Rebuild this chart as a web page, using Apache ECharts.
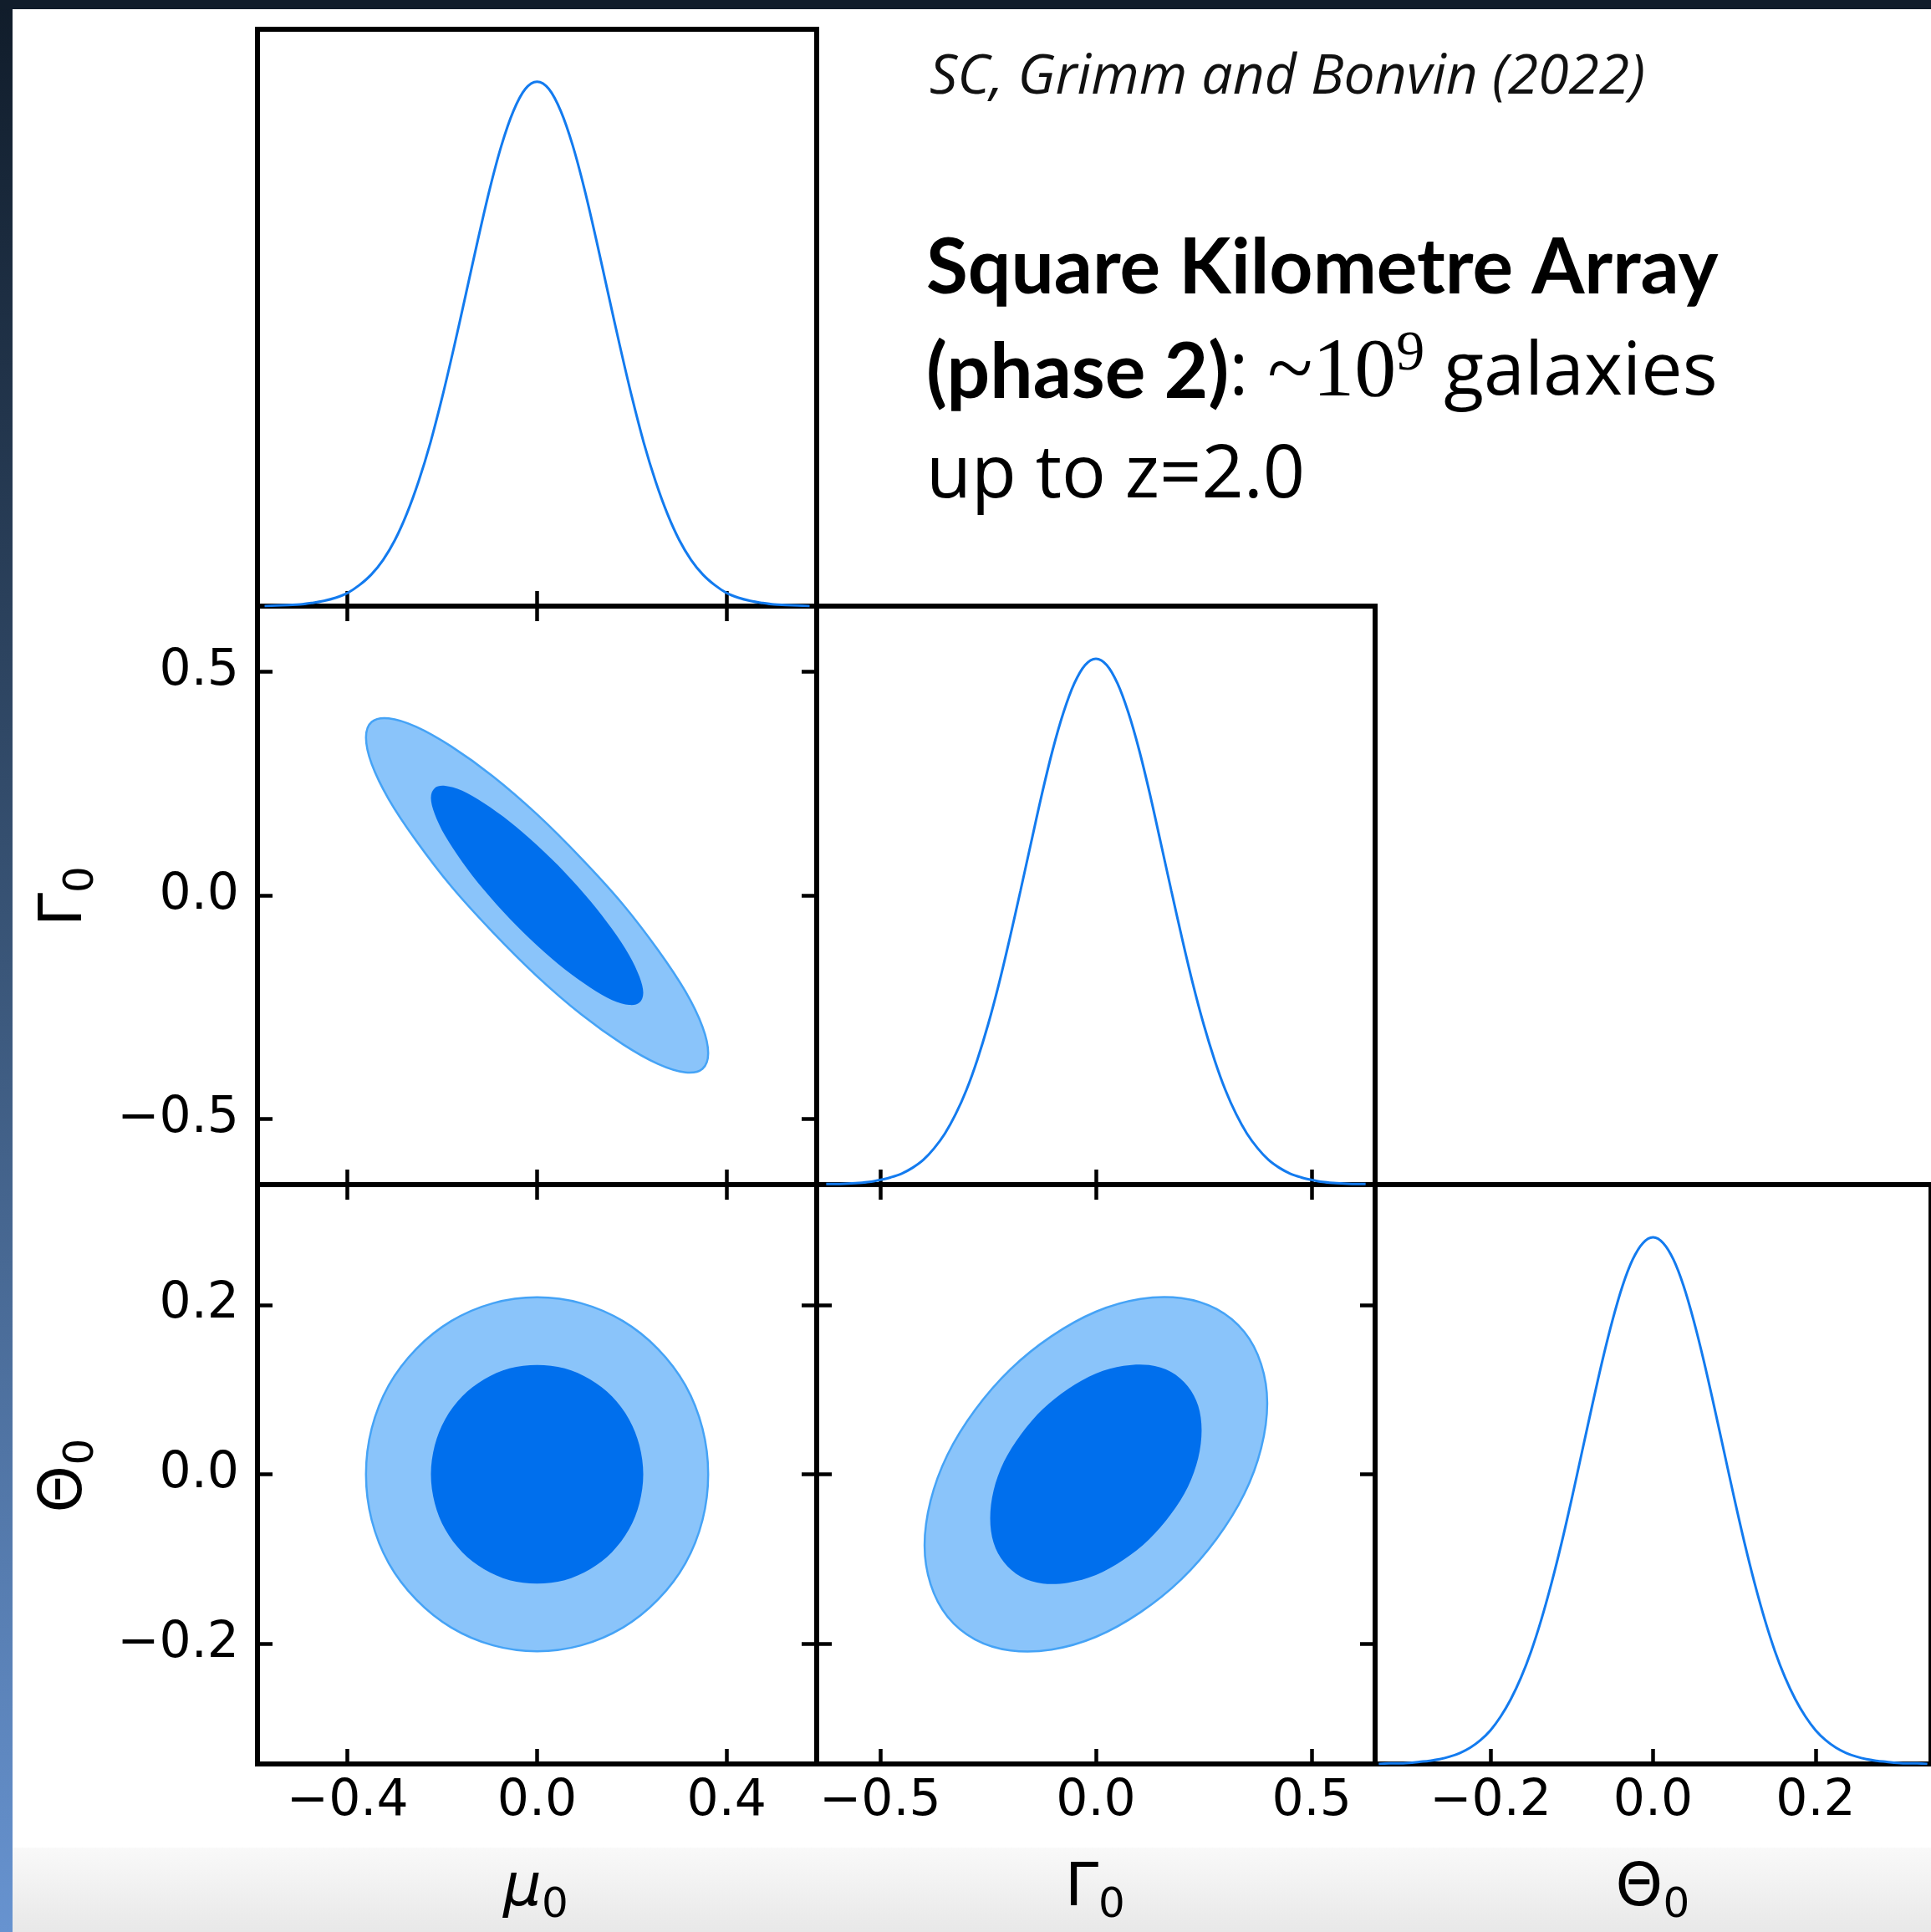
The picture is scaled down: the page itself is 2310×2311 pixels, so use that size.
<!DOCTYPE html>
<html>
<head>
<meta charset="utf-8">
<title>SKA phase 2 - mu0 / Gamma0 / Theta0</title>
<script src="https://cdn.jsdelivr.net/npm/echarts@6/dist/echarts.min.js"></script>
<style>
	html, body { margin: 0; padding: 0; background: #fff; }
	#main { width: 2310px; height: 2311px; }
</style>
</head>
<body>
<div id="main"></div>
<script type="text/javascript">

	// plot ranges and tick labels
	var muRange  = [-0.59, 0.59];
	var gamRange = [-0.647, 0.647];
	var theRange = [-0.342, 0.342];
	var muTicks  = [-0.4, 0.0, 0.4];
	var gamTicks = [-0.5, 0.0, 0.5];
	var theTicks = [-0.2, 0.0, 0.2];

	// 1D marginals (peak = 1)
	var muGrid = [-0.575,-0.55,-0.525,-0.5,-0.475,-0.45,-0.425,-0.4,-0.375,-0.35,-0.325,-0.3,-0.275,-0.25,-0.225,-0.2,-0.175,-0.15,-0.125,-0.1,-0.075,-0.05,-0.025,0,
		0.025,0.05,0.075,0.1,0.125,0.15,0.175,0.2,0.225,0.25,0.275,0.3,0.325,0.35,0.375,0.4,0.425,0.45,0.475,0.5,0.525,0.55,0.575];
	var muPdf = [0.000,0.001,0.002,0.003,0.006,0.010,0.016,0.025,0.040,0.060,0.088,0.126,0.176,0.238,0.312,0.399,0.495,0.596,0.698,0.795,0.879,0.944,0.986,1.000,
		0.986,0.944,0.879,0.795,0.698,0.596,0.495,0.399,0.312,0.238,0.176,0.126,0.088,0.060,0.040,0.025,0.016,0.010,0.006,0.003,0.002,0.001,0.000];

	var gamGrid = [-0.625,-0.6,-0.575,-0.55,-0.525,-0.5,-0.475,-0.45,-0.425,-0.4,-0.375,-0.35,-0.325,-0.3,-0.275,-0.25,-0.225,-0.2,-0.175,-0.15,-0.125,-0.1,-0.075,-0.05,-0.025,0,
		0.025,0.05,0.075,0.1,0.125,0.15,0.175,0.2,0.225,0.25,0.275,0.3,0.325,0.35,0.375,0.4,0.425,0.45,0.475,0.5,0.525,0.55,0.575,0.6,0.625];
	var gamPdf = [0.001,0.001,0.002,0.003,0.005,0.009,0.014,0.021,0.032,0.047,0.069,0.097,0.134,0.180,0.237,0.304,0.381,0.467,0.558,0.651,0.743,0.827,0.898,0.953,0.988,1.000,
		0.988,0.953,0.898,0.827,0.743,0.651,0.558,0.467,0.381,0.304,0.237,0.180,0.134,0.097,0.069,0.047,0.032,0.021,0.014,0.009,0.005,0.003,0.002,0.001,0.001];

	var theGrid = [-0.3375,-0.325,-0.3125,-0.3,-0.2875,-0.275,-0.2625,-0.25,-0.2375,-0.225,-0.2125,-0.2,-0.1875,-0.175,-0.1625,-0.15,-0.1375,-0.125,-0.1125,-0.1,-0.0875,-0.075,-0.0625,-0.05,-0.0375,-0.025,-0.0125,0,
		0.0125,0.025,0.0375,0.05,0.0625,0.075,0.0875,0.1,0.1125,0.125,0.1375,0.15,0.1625,0.175,0.1875,0.2,0.2125,0.225,0.2375,0.25,0.2625,0.275,0.2875,0.3,0.3125,0.325,0.3375];
	var thePdf = [0.000,0.001,0.001,0.002,0.004,0.006,0.009,0.014,0.021,0.031,0.045,0.064,0.090,0.123,0.164,0.214,0.274,0.343,0.420,0.504,0.592,0.680,0.765,0.842,0.908,0.958,0.989,1.000,
		0.989,0.958,0.908,0.842,0.765,0.680,0.592,0.504,0.420,0.343,0.274,0.214,0.164,0.123,0.090,0.064,0.045,0.031,0.021,0.014,0.009,0.006,0.004,0.002,0.001,0.001,0.000];

	// 2D contours (68% inner, 95% outer), points traced round each contour
	var muGamOuter = [[0.361,-0.353],[0.349,-0.294],[0.313,-0.215],[0.255,-0.122],[0.181,-0.020],[0.093,0.083],[0,0.181],[-0.093,0.266],[-0.181,0.333],[-0.255,0.377],[-0.313,0.396],[-0.349,0.388],
		[-0.361,0.353],[-0.349,0.294],[-0.313,0.215],[-0.255,0.122],[-0.181,0.020],[-0.093,-0.083],[0,-0.181],[0.093,-0.266],[0.181,-0.333],[0.255,-0.377],[0.313,-0.396],[0.349,-0.388]];
	var muGamInner = [[0.224,-0.218],[0.216,-0.182],[0.194,-0.133],[0.158,-0.075],[0.112,-0.012],[0.058,0.052],[0,0.112],[-0.058,0.165],[-0.112,0.206],[-0.158,0.234],[-0.194,0.245],[-0.216,0.240],
		[-0.224,0.218],[-0.216,0.182],[-0.194,0.133],[-0.158,0.075],[-0.112,0.012],[-0.058,-0.052],[0,-0.112],[0.058,-0.165],[0.112,-0.206],[0.158,-0.234],[0.194,-0.245],[0.216,-0.240]];

	var muTheOuter = [[0.361,0],[0.349,0.054],[0.313,0.105],[0.255,0.148],[0.181,0.181],[0.093,0.202],[0,0.209],[-0.093,0.202],[-0.181,0.181],[-0.255,0.148],[-0.313,0.105],[-0.349,0.054],
		[-0.361,0],[-0.349,-0.054],[-0.313,-0.105],[-0.255,-0.148],[-0.181,-0.181],[-0.093,-0.202],[0,-0.209],[0.093,-0.202],[0.181,-0.181],[0.255,-0.148],[0.313,-0.105],[0.349,-0.054]];
	var muTheInner = [[0.224,0],[0.216,0.034],[0.194,0.065],[0.158,0.092],[0.112,0.112],[0.058,0.125],[0,0.129],[-0.058,0.125],[-0.112,0.112],[-0.158,0.092],[-0.194,0.065],[-0.216,0.034],
		[-0.224,0],[-0.216,-0.034],[-0.194,-0.065],[-0.158,-0.092],[-0.112,-0.112],[-0.058,-0.125],[0,-0.129],[0.058,-0.125],[0.112,-0.112],[0.158,-0.092],[0.194,-0.065],[0.216,-0.034]];

	var gamTheOuter = [[0.397,0.084],[0.383,0.130],[0.344,0.168],[0.280,0.195],[0.198,0.208],[0.103,0.207],[0,0.192],[-0.103,0.163],[-0.198,0.124],[-0.280,0.076],[-0.344,0.023],[-0.383,-0.031],
		[-0.397,-0.084],[-0.383,-0.130],[-0.344,-0.168],[-0.280,-0.195],[-0.198,-0.208],[-0.103,-0.207],[0,-0.192],[0.103,-0.163],[0.198,-0.124],[0.280,-0.076],[0.344,-0.023],[0.383,0.031]];
	var gamTheInner = [[0.245,0.052],[0.237,0.081],[0.213,0.104],[0.174,0.121],[0.123,0.129],[0.064,0.128],[0,0.119],[-0.064,0.101],[-0.123,0.077],[-0.174,0.047],[-0.213,0.015],[-0.237,-0.019],
		[-0.245,-0.052],[-0.237,-0.081],[-0.213,-0.104],[-0.174,-0.121],[-0.123,-0.129],[-0.064,-0.128],[0,-0.119],[0.064,-0.101],[0.123,-0.077],[0.174,-0.047],[0.213,-0.015],[0.237,0.019]];

	var LINE_COLOR = '#137BEF';
	var DARK_FILL = '#006FED';
	var LIGHT_FILL = '#8AC4FA';
	var LIGHT_EDGE = '#45A3F6';

	function tickText(v) {
		return (v < 0 ? '\u2212' : '') + Math.abs(v).toFixed(1);
	}

	function axis(gridIndex, range, ticks, position, showLabel) {
		return {
			type: 'value',
			gridIndex: gridIndex,
			position: position,
			min: range[0],
			max: range[1],
			axisLine: { show: false, onZero: false },
			splitLine: { show: false },
			axisTick: { show: true, inside: true, length: 18, customValues: ticks, lineStyle: { color: '#000', width: 4.5 } },
			axisLabel: {
				show: showLabel,
				customValues: ticks,
				formatter: tickText,
				color: '#000',
				fontFamily: 'DejaVu Sans',
				fontSize: 60,
				margin: (position === 'left') ? 22 : 15
			}
		};
	}

	function pdfAxis(gridIndex) {
		return { type: 'value', gridIndex: gridIndex, min: 0, max: 1.1, show: false };
	}

	function pairs(xs, ys) {
		return xs.map(function (x, i) { return [x, ys[i]]; });
	}

	function pdfSeries(xi, yi, xs, ys) {
		return {
			type: 'line', xAxisIndex: xi, yAxisIndex: yi,
			data: pairs(xs, ys),
			showSymbol: false, symbol: 'none', smooth: 0.35,
			lineStyle: { color: LINE_COLOR, width: 3 },
			z: 3
		};
	}

	// closed curve through the pixel points (cubic segments)
	function closedCurve(p) {
		var n = p.length;
		var d = 'M' + p[0][0] + ' ' + p[0][1];
		for (var i = 0; i < n; i++) {
			var a = p[(i - 1 + n) % n], b = p[i], c = p[(i + 1) % n], e = p[(i + 2) % n];
			d += ' C' + (b[0] + (c[0] - a[0]) / 6) + ' ' + (b[1] + (c[1] - a[1]) / 6) + ' ' +
				(c[0] - (e[0] - b[0]) / 6) + ' ' + (c[1] - (e[1] - b[1]) / 6) + ' ' + c[0] + ' ' + c[1];
		}
		return d + ' Z';
	}

	function contourSeries(xi, yi, pts, fill, stroke, width) {
		return {
			type: 'custom', xAxisIndex: xi, yAxisIndex: yi,
			data: pts,
			z: 2,
			renderItem: function (params, api) {
				if (params.dataIndex !== 0) return;
				var points = pts.map(function (p) { return api.coord(p); });
				return {
					type: 'path',
					shape: { pathData: closedCurve(points) },
					style: { fill: fill, stroke: stroke, lineWidth: width }
				};
			}
		};
	}

	function axisTitle(x, y, main, mainAdv, italic, vertical) {
		var w = mainAdv + 32;
		return {
			type: 'group', x: x, y: y, rotation: vertical ? Math.PI / 2 : 0, z: 20,
			children: [
				{ type: 'text', x: -w / 2, y: 0, z: 20,
					style: { text: main, font: (italic ? 'italic ' : '') + '72px "DejaVu Sans"', fill: '#000', align: 'left', verticalAlign: 'middle' } },
				{ type: 'text', x: -w / 2 + mainAdv, y: 20, z: 20,
					style: { text: '0', font: '50px "DejaVu Sans"', fill: '#000', align: 'left', verticalAlign: 'middle' } }
			]
		};
	}

	var frame = { show: true, borderColor: '#000', borderWidth: 6, backgroundColor: 'transparent' };
	function grid(l, t, w, h) {
		return Object.assign({ left: l, top: t, width: w, height: h }, frame);
	}

	var chart = echarts.init(document.getElementById('main'));
	chart.setOption({
		animation: false,
		backgroundColor: '#ffffff',
		grid: [
			grid(308, 35, 669, 690),    // mu 1D
			grid(308, 725, 669, 692),   // mu - Gamma
			grid(977, 725, 668, 692),   // Gamma 1D
			grid(308, 1417, 669, 693),  // mu - Theta
			grid(977, 1417, 668, 693),  // Gamma - Theta
			grid(1645, 1417, 669, 693)  // Theta 1D
		],
		xAxis: [
			axis(0, muRange, muTicks, 'bottom', false),
			axis(1, muRange, muTicks, 'bottom', false),
			axis(1, muRange, muTicks, 'top', false),
			axis(2, gamRange, gamTicks, 'bottom', false),
			axis(3, muRange, muTicks, 'bottom', true),
			axis(3, muRange, muTicks, 'top', false),
			axis(4, gamRange, gamTicks, 'bottom', true),
			axis(4, gamRange, gamTicks, 'top', false),
			axis(5, theRange, theTicks, 'bottom', true)
		],
		yAxis: [
			pdfAxis(0),
			axis(1, gamRange, gamTicks, 'left', true),
			axis(1, gamRange, gamTicks, 'right', false),
			pdfAxis(2),
			axis(3, theRange, theTicks, 'left', true),
			axis(3, theRange, theTicks, 'right', false),
			axis(4, theRange, theTicks, 'left', false),
			axis(4, theRange, theTicks, 'right', false),
			pdfAxis(5)
		],
		series: [
			pdfSeries(0, 0, muGrid, muPdf),
			contourSeries(1, 1, muGamOuter, LIGHT_FILL, LIGHT_EDGE, 2.5),
			contourSeries(1, 1, muGamInner, DARK_FILL, DARK_FILL, 0),
			pdfSeries(3, 3, gamGrid, gamPdf),
			contourSeries(4, 4, muTheOuter, LIGHT_FILL, LIGHT_EDGE, 2.5),
			contourSeries(4, 4, muTheInner, DARK_FILL, DARK_FILL, 0),
			contourSeries(6, 6, gamTheOuter, LIGHT_FILL, LIGHT_EDGE, 2.5),
			contourSeries(6, 6, gamTheInner, DARK_FILL, DARK_FILL, 0),
			pdfSeries(8, 8, theGrid, thePdf)
		],
		graphic: [
			// slide background pieces
			{ type: 'rect', z: -10, shape: { x: 15, y: 2210, width: 2295, height: 101 },
				style: { fill: { type: 'linear', x: 0, y: 0, x2: 0, y2: 1, colorStops: [{ offset: 0, color: '#f9f9f9' }, { offset: 1, color: '#e8e8e8' }] } } },
			{ type: 'rect', z: -10, shape: { x: 0, y: 0, width: 15, height: 2311 },
				style: { fill: { type: 'linear', x: 0, y: 0, x2: 0, y2: 1, colorStops: [{ offset: 0, color: '#101c2a' }, { offset: 0.5, color: '#3a5679' }, { offset: 1, color: '#6793d0' }] } } },
			{ type: 'rect', z: -10, shape: { x: 0, y: 0, width: 2310, height: 11 }, style: { fill: '#111d2b' } },

			// axis titles
			axisTitle(641, 2260, '\u03bc', 46, true, false),
			axisTitle(1310, 2260, '\u0393', 40, false, false),
			axisTitle(1977, 2260, '\u0398', 57, false, false),
			axisTitle(78, 1072, '\u0393', 40, false, true),
			axisTitle(78, 1765, '\u0398', 57, false, true),

			// annotation text
			{ type: 'text', x: 1112, y: 93, z: 20,
				style: { text: 'SC, Grimm and Bonvin (2022)', font: 'italic 66px "Open Sans"', fill: '#111', verticalAlign: 'middle' } },
			{ type: 'text', x: 1108, y: 322, z: 20,
				style: { text: 'Square Kilometre Array', font: 'bold 91px Lato', fill: '#000', verticalAlign: 'middle' } },
			{ type: 'text', x: 1108, y: 447, z: 20,
				style: {
					text: '{b|(phase 2)}{r|: }{s|~10}{p|9}{r| galaxies}',
					fill: '#000', verticalAlign: 'middle',
					rich: {
						b: { fontFamily: 'Lato', fontWeight: 'bold', fontSize: 91, lineHeight: 120, fill: '#000' },
						r: { fontFamily: 'Open Sans', fontSize: 88, lineHeight: 120, fill: '#000' },
						s: { fontFamily: 'Liberation Serif', fontSize: 100, lineHeight: 120, fill: '#000' },
						p: { fontFamily: 'Liberation Serif', fontSize: 68, lineHeight: 74, padding: [0, 0, 46, 0], fill: '#000' }
					}
				} },
			{ type: 'text', x: 1108, y: 570, z: 20,
				style: { text: 'up to z=2.0', font: '88px "Open Sans"', fill: '#000', verticalAlign: 'middle' } }
		]
	});

</script>
</body>
</html>
